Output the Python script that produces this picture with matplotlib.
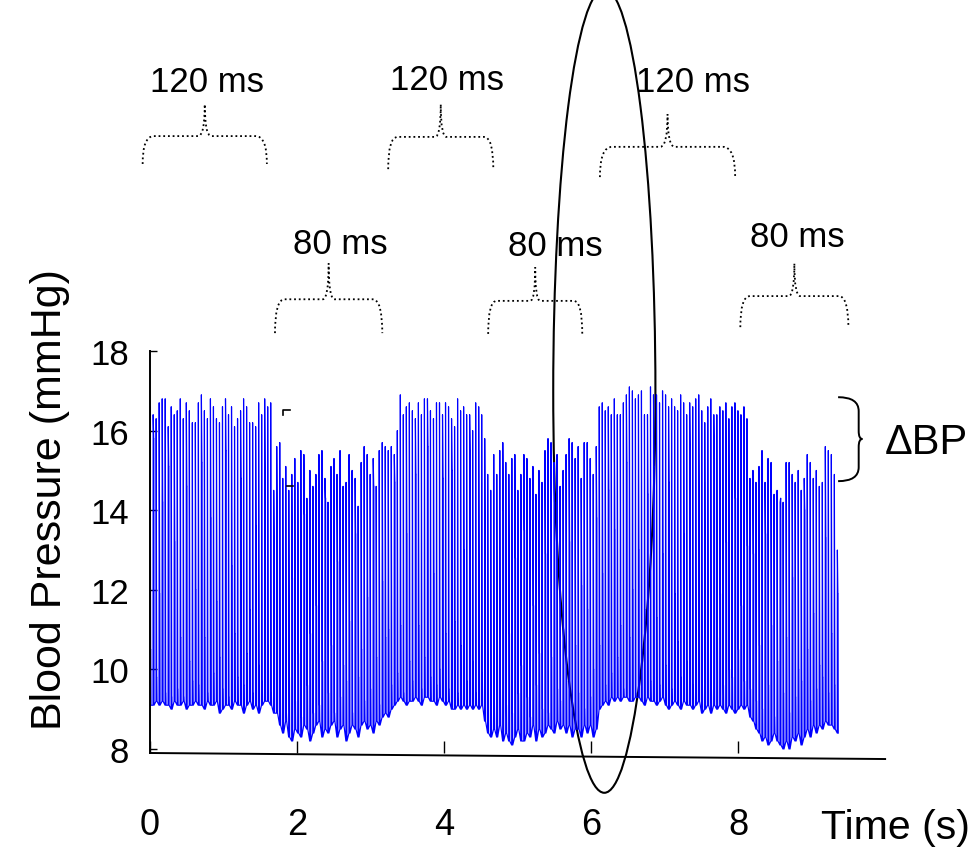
import numpy as np
import matplotlib
matplotlib.use("Agg")
import matplotlib.pyplot as plt
from matplotlib.path import Path
from matplotlib.patches import PathPatch, Ellipse

plt.rcParams['font.family'] = ['Liberation Sans', 'DejaVu Sans']

# passo de amostragem entre batimentos (s)
passo = 0.041

# Segmento A - 120 ms
picos_a = [16.6, 16.4, 16.3, 16.7, 16.8, 16.8, 16.1, 16.6, 16.4, 16.5,
           16.8, 16.3, 16.7, 16.5, 16.2, 16.2, 16.7, 16.9, 16.5, 16.3,
           16.8, 16.6, 16.3, 16.2, 16.6, 16.8, 16.4, 16.6, 16.1, 16.3,
           16.5, 16.8, 16.6, 16.2, 16.2, 16.1, 16.7, 16.4, 16.8, 16.6,
           16.7, 14.5]
vales_a = [9.1, 9.1, 9.2, 9.1, 9.2, 9.1, 9.1, 9.0, 9.2, 9.1,
           9.1, 9.2, 9.0, 9.1, 9.1, 9.2, 9.1, 9.1, 9.0, 9.2,
           9.1, 9.1, 9.2, 8.9, 9.0, 9.1, 9.1, 9.0, 9.2, 9.1,
           9.1, 8.9, 9.1, 9.2, 9.0, 9.1, 8.9, 9.1, 9.2, 9.2,
           9.1, 8.9]
entalhes_a = [10.5, 15.8, 9.8, 11.9, 14.2, 9.4, 15.1, 9.3, 13.2, 9.5,
              10.8, 9.3, 14.6, 10.2, 9.7, 12.0, 9.6, 15.2, 10.8, 9.4,
              13.8, 9.9, 11.7, 10.3, 9.5, 15.5, 9.3, 12.6, 10.9, 9.8,
              14.8, 9.6, 10.4, 11.5, 9.4, 13.6, 10.1, 9.7, 15.0, 10.6,
              9.4, 13.0]

# Segmento B - 80 ms
picos_b = [15.6, 15.7, 14.8, 15.1, 14.5, 14.9, 15.3, 14.7, 15.5, 15.4,
           14.3, 15.0, 14.6, 14.9, 15.4, 15.5, 14.8, 14.2, 15.1, 15.3,
           14.9, 15.5, 14.6, 14.7, 15.4, 15.0, 14.8, 14.1, 15.2, 15.6,
           15.4, 14.9, 15.3, 14.6, 15.5, 15.7, 15.6]
vales_b = [8.9, 8.6, 8.4, 8.7, 8.3, 8.2, 8.5, 8.4, 8.3, 8.6,
           8.5, 8.2, 8.4, 8.6, 8.7, 8.3, 8.5, 8.4, 8.6, 8.7,
           8.3, 8.5, 8.6, 8.2, 8.4, 8.6, 8.5, 8.3, 8.6, 8.7,
           8.5, 8.6, 8.4, 8.7, 8.6, 8.8, 8.9]
entalhes_b = [13.7, 9.5, 10.8, 8.9, 9.8, 12.3, 9.2, 10.4, 8.8, 13.9,
              9.6, 10.9, 8.9, 11.6, 9.1, 10.2, 14.3, 9.4, 10.6, 8.9,
              12.7, 9.3, 10.1, 9.7, 11.2, 8.9, 13.4, 9.8, 10.5, 9.2,
              11.8, 9.5, 14.6, 10.3, 9.1, 12.2, 10.8]

# Segmento C - 120 ms
picos_c = [15.5, 15.6, 15.4, 16.0, 16.9, 16.4, 16.6, 16.7, 16.5, 16.3,
           16.7, 16.4, 16.8, 16.8, 16.5, 16.3, 16.7, 16.7, 16.4, 16.7,
           16.6, 16.3, 16.1, 16.8, 16.5, 16.6, 16.4, 16.4, 16.0, 16.7,
           16.6, 16.4, 15.8, 14.9, 14.5]
vales_c = [8.8, 9.0, 9.1, 9.2, 9.3, 9.2, 9.1, 9.2, 9.2, 9.3,
           9.2, 9.1, 9.3, 9.3, 9.2, 9.2, 9.1, 9.3, 9.2, 9.1,
           9.2, 9.0, 9.0, 9.1, 9.0, 9.1, 9.0, 9.1, 9.0, 9.1,
           9.0, 9.1, 8.7, 8.4, 8.3]
entalhes_c = [11.0, 9.6, 14.7, 9.9, 11.1, 9.4, 13.4, 10.2, 9.7, 14.9,
              11.1, 9.5, 10.3, 15.6, 9.8, 12.4, 9.6, 10.0, 14.8, 10.9,
              9.5, 15.0, 11.2, 9.4, 10.6, 13.0, 9.7, 15.5, 10.2, 9.4,
              12.7, 9.9, 13.5, 9.8, 8.9]

# Segmento D - 80 ms
picos_d = [15.4, 14.9, 15.5, 15.7, 15.2, 14.9, 15.3, 15.4, 14.5, 14.9,
           15.4, 15.3, 14.8, 15.1, 14.4, 15.0, 14.7, 15.5, 15.8, 15.7,
           15.2, 15.4, 14.6, 15.0, 15.4, 15.8, 15.7, 15.3, 15.6, 14.8,
           15.7, 15.7, 15.3, 14.9, 15.6]
vales_d = [8.5, 8.3, 8.6, 8.2, 8.4, 8.2, 8.1, 8.3, 8.5, 8.2,
           8.2, 8.4, 8.3, 8.6, 8.2, 8.5, 8.3, 8.4, 8.6, 8.5,
           8.4, 8.7, 8.5, 8.6, 8.4, 8.6, 8.3, 8.5, 8.5, 8.3,
           8.6, 8.4, 8.6, 8.3, 8.5]
entalhes_d = [9.2, 10.7, 9.5, 14.0, 9.1, 10.9, 8.9, 12.8, 9.4, 10.1,
              13.5, 9.3, 8.8, 11.6, 9.6, 10.4, 9.0, 12.9, 8.9, 10.3,
              14.2, 9.5, 9.2, 11.0, 9.7, 13.2, 9.1, 10.6, 9.4, 12.1,
              9.0, 11.5, 9.3, 10.0, 13.8]

# Segmento E - 120 ms
picos_e = [16.6, 16.7, 16.5, 16.6, 16.4, 16.8, 16.4, 16.4, 16.7, 16.9,
           17.1, 17.0, 16.8, 16.9, 17.0, 16.4, 16.4, 17.1, 16.9, 16.9,
           16.7, 17.0, 16.9, 16.6, 16.8, 16.6, 16.5, 16.9, 16.7, 16.4,
           16.7, 16.6, 16.8, 16.9, 16.5, 16.2, 16.6, 16.8, 16.4, 16.4,
           16.6, 16.5, 16.7, 16.3, 16.6, 16.7, 16.5, 16.4, 16.6, 16.3]
vales_e = [9.0, 9.1, 9.2, 9.1, 9.3, 9.2, 9.3, 9.2, 9.3, 9.3,
           9.2, 9.2, 9.3, 9.3, 9.2, 9.1, 9.3, 9.2, 9.2, 9.1,
           9.2, 9.3, 9.1, 9.0, 9.1, 9.2, 9.1, 9.0, 9.2, 9.1,
           9.1, 9.0, 9.1, 9.2, 8.9, 9.0, 9.1, 8.9, 9.1, 9.0,
           9.1, 9.0, 8.9, 9.1, 9.0, 8.9, 9.0, 9.1, 9.0, 9.1]
entalhes_e = [10.6, 12.4, 9.6, 14.5, 9.9, 13.5, 10.3, 11.1, 9.5, 15.2,
              10.8, 12.0, 9.4, 13.0, 10.5, 11.5, 14.4, 9.7, 15.1, 11.3,
              9.6, 12.9, 10.1, 14.7, 9.5, 11.9, 10.7, 9.8, 13.4, 10.2,
              15.6, 9.6, 11.0, 14.1, 9.7, 12.6, 10.4, 9.5, 15.3, 10.8,
              11.9, 9.6, 13.2, 10.0, 9.8, 14.3, 10.5, 11.6, 9.7, 13.1]

# Segmento F - 80 ms
picos_f = [14.8, 15.0, 14.7, 15.1, 15.5, 14.7, 15.3, 15.2, 14.4, 14.5,
           14.2, 14.2, 15.2, 15.2, 14.9, 14.7, 15.0, 14.5, 14.8, 15.4,
           15.2, 14.8, 15.0, 14.6, 14.7, 15.6, 15.5, 15.4, 14.9, 13.0]
vales_f = [8.8, 8.7, 8.5, 8.4, 8.2, 8.3, 8.1, 8.2, 8.4, 8.2,
           8.1, 8.0, 8.2, 8.0, 8.3, 8.2, 8.4, 8.1, 8.3, 8.5,
           8.3, 8.6, 8.4, 8.6, 8.5, 8.7, 8.6, 8.6, 8.5, 8.4]
entalhes_f = [9.5, 12.9, 9.2, 10.6, 9.0, 13.4, 9.6, 11.1, 8.8, 10.2,
              14.3, 9.4, 10.8, 8.9, 12.3, 9.3, 10.0, 9.7, 14.0, 10.5,
              9.2, 11.4, 9.5, 10.1, 9.8, 13.3, 9.4, 10.9, 9.6, 11.9]

# Anotações (chaves pontilhadas): rótulo, início, fim (s)
rotulos_chaves = ['120 ms', '80 ms', '120 ms', '80 ms', '120 ms', '80 ms']
inicio_chaves = [-0.10, 1.70, 3.24, 4.60, 6.12, 8.03]
fim_chaves = [1.59, 3.16, 4.67, 5.88, 7.96, 9.50]
# alturas: extremidades, braços, ponta, texto (mmHg)
ponta_chaves = [24.2, 20.2, 24.2, 20.1, 23.95, 20.2]
braco_chaves = [23.4, 19.3, 23.38, 19.26, 23.13, 19.38]
extremo_chaves = [22.7, 18.45, 22.57, 18.43, 22.37, 18.6]
texto_x = [0.78, 2.59, 4.04, 5.51, 7.39, 8.80]
texto_y = [24.76, 20.69, 24.83, 20.64, 24.76, 20.87]

picos = picos_a + picos_b + picos_c + picos_d + picos_e + picos_f
vales = vales_a + vales_b + vales_c + vales_d + vales_e + vales_f
entalhes = entalhes_a + entalhes_b + entalhes_c + entalhes_d + entalhes_e + entalhes_f

# Monta a forma de onda: subida, pico, entalhe, descida
tempos = np.arange(len(picos)) * passo
xs, ys = [], []
for t, p, v, e in zip(tempos, picos, vales, entalhes):
    xs += [t, t + 0.002, t + 0.009, t + 0.011, t + 0.014]
    ys += [v, p, e, e, v]


def chave(ax, x0, x1, y_ext, y_braco, y_ponta, **kw):
    """Desenha uma chave aberta para baixo"""
    xm = (x0 + x1) / 2
    q = 0.09 * (x1 - x0)
    verts = [(x0, y_ext), (x0, y_braco), (x0 + q, y_braco),
             (xm - q * 0.6, y_braco), (xm, y_braco), (xm, y_ponta),
             (xm, y_braco), (xm + q * 0.6, y_braco),
             (x1 - q, y_braco), (x1, y_braco), (x1, y_ext)]
    codes = [Path.MOVETO, Path.CURVE3, Path.CURVE3,
             Path.LINETO, Path.CURVE3, Path.CURVE3,
             Path.CURVE3, Path.CURVE3,
             Path.LINETO, Path.CURVE3, Path.CURVE3]
    ax.add_patch(PathPatch(Path(verts, codes), fill=False, clip_on=False, **kw))


fig = plt.figure(figsize=(9.74, 8.54), dpi=100)
ax = fig.add_axes([0.1540, 0.1171, 0.7495, 0.4707])

ax.plot(xs, ys, color='#0000ff', linewidth=0.85)

ax.set_xlim(0, 9.93)
ax.set_ylim(7.9, 18.0)
ax.spines['top'].set_visible(False)
ax.spines['right'].set_visible(False)
ax.spines['bottom'].set_visible(False)
ax.spines['left'].set_linewidth(1.4)
ax.spines['left'].set_bounds(7.9, 18.0)

# eixo inferior levemente inclinado
ax.plot([0, 1.007], [0, -0.015], transform=ax.transAxes, color='black',
        linewidth=1.4, clip_on=False)

ax.set_xticks([0, 2, 4, 6, 8])
ax.set_xticklabels(['0', '2', '4', '6', '8'])
ax.set_yticks([8, 10, 12, 14, 16, 18])
ax.tick_params(axis='x', direction='in', length=9, width=1.0, pad=39, labelsize=26)
ax.tick_params(axis='y', direction='in', length=5, width=1.0, pad=15, labelsize=25)

# marcas soltas perto de t=1.85
ax.plot([1.81, 1.81, 1.90], [16.39, 16.52, 16.52], color='black', linewidth=1.2)
ax.plot([1.86, 1.94], [14.61, 14.61], color='black', linewidth=1.2)

# chaves pontilhadas com rótulos
for i in range(len(rotulos_chaves)):
    chave(ax, inicio_chaves[i], fim_chaves[i], extremo_chaves[i], braco_chaves[i],
          ponta_chaves[i], color='black', linewidth=1.3, linestyle=(0, (1, 1.6)))
    ax.text(texto_x[i], texto_y[i], rotulos_chaves[i], ha='center', va='center',
            fontsize=25, clip_on=False)

# chave de ΔBP
x_c, x_p = 9.36, 9.69
y_sup, y_inf, y_mid = 16.84, 14.73, 15.79
verts = [(x_c, y_sup), (x_c + 0.28, y_sup), (x_c + 0.28, y_sup - 0.35),
         (x_c + 0.28, y_mid + 0.2), (x_c + 0.28, y_mid), (x_p, y_mid),
         (x_c + 0.28, y_mid), (x_c + 0.28, y_mid - 0.2),
         (x_c + 0.28, y_inf + 0.35), (x_c + 0.28, y_inf), (x_c, y_inf)]
codes = [Path.MOVETO, Path.CURVE3, Path.CURVE3, Path.LINETO, Path.CURVE3, Path.CURVE3,
         Path.CURVE3, Path.CURVE3, Path.LINETO, Path.CURVE3, Path.CURVE3]
ax.add_patch(PathPatch(Path(verts, codes), fill=False, color='black', linewidth=1.4,
                       clip_on=False))
ax.text(10.0, 15.71, 'ΔBP', ha='left', va='center', fontsize=30, clip_on=False)

# elipse de destaque
ax.add_patch(Ellipse((6.18, 17.0), 1.39, 20.2, fill=False, edgecolor='black',
                     linewidth=1.5, clip_on=False))

fig.text(50 / 974, 1 - 500 / 854, 'Blood Pressure (mmHg)', rotation=90,
         ha='center', va='center', fontsize=31)
fig.text(821 / 974, 1 - 828 / 854, 'Time (s)', ha='left', va='center', fontsize=29.5)

fig.savefig('out.png', dpi=100)
